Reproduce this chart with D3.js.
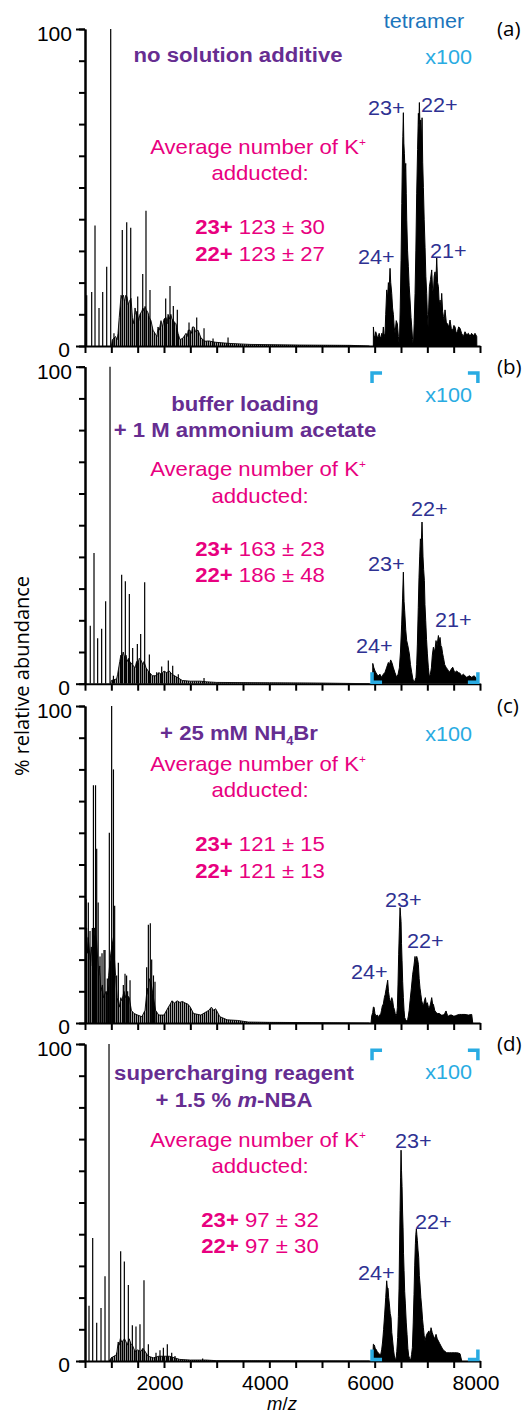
<!DOCTYPE html>
<html><head><meta charset="utf-8">
<script src="https://cdn.jsdelivr.net/npm/d3@7"></script>
<style>
body{margin:0;background:#fff}
text{font-family:"Liberation Sans",Arial,sans-serif}
.os{font-family:"Open Sans","Noto Sans",sans-serif}
</style>
</head><body>
<svg id="chart" width="523" height="1414"></svg>
<script>
// ---------------- DATA ----------------
const xTicks = d3.range(500, 8001, 500);
const xTickLabels = [2000, 4000, 6000, 8000];
const yMinorTicks = d3.range(0, 101, 10);
const yMajorTicks = [0, 100];
const panelLetters = ["(a)", "(b)", "(c)", "(d)"];

// stick peaks [m/z, % abundance]
const sticksA = [[532,16],[627,17],[690,38],[766,12],[836,17],[912,25],[988,100],[1050,4],[1208,36.6],[1292,39],[1368,37.3],[1501,15.6],[1596,22.7],[1658,42.7],[1734,17.7],[2032,15],[2114,18.9],[2177,12.6],[2253,11.4],[2475,7.4],[2621,9],[2760,5.6],[2931,2.4],[3216,2.7]];
const sticksB = [[600,18.3],[671,41.2],[740,14.3],[816,17.3],[892,26],[975,100],[1040,2.5],[1196,34.4],[1266,32.3],[1342,28.3],[1405,11.3],[1494,12.5],[1557,15.7],[1633,32],[1722,9.2],[1861,3.6],[1956,5.4],[2082,7.3],[2165,5.7],[2272,3],[2760,1.8]];
const sticksC = [[510,50],[520,39],[563,38],[595,29],[640,30],[660,75],[700,75],[722,55],[750,38],[785,21],[823,22],[861,23],[880,23],[924,14],[962,60],[1006,100],[1040,80],[1063,37],[1101,15],[1133,19],[1228,12],[1260,15.5],[1290,15],[1310,10],[1355,13.5],[1671,17.6],[1703,31],[1740,31.5],[1766,20],[1800,15],[1829,13]];
const sticksD = [[505,15.5],[576,17.4],[646,38.8],[722,12.1],[804,16.7],[880,26.7],[956,100],[1010,1.3],[1101,2.6],[1177,34.6],[1247,31.4],[1323,24],[1399,11.3],[1468,10.9],[1544,11.6],[1620,25.5],[1703,5.3],[1848,2.6],[1924,3.4],[1988,4.2],[2063,5.3],[2146,2.6],[2209,1.6],[2734,0.8]];

// dense low m/z envelopes [m/z, % abundance]
const envA = [[1000,0],[1020,2],[1080,3],[1110,2],[1127,4],[1150,9],[1165,12],[1185,16],[1203,15],[1230,16],[1250,14],[1275,16],[1298,15.5],[1320,13],[1340,14],[1374,15],[1400,9],[1430,7],[1450,12],[1470,10],[1488,11],[1520,8],[1544,10],[1580,11],[1600,12],[1620,11],[1640,12.5],[1660,11.5],[1696,10.5],[1720,9],[1753,8],[1791,5],[1829,4],[1867,3],[1886,6],[1910,5],[1943,8],[1970,6],[2000,8.5],[2040,9],[2060,7],[2076,10],[2110,8.5],[2130,10],[2152,8.5],[2200,7.5],[2228,7],[2266,4],[2304,2],[2361,2.5],[2418,4],[2440,3],[2460,5],[2494,5],[2520,4],[2540,6],[2570,6],[2600,4.5],[2646,5],[2680,3.5],[2703,2.5],[2779,1.5],[2850,1.6],[2969,1.2],[3100,1],[3254,0.8],[3633,0.5],[4583,0.3],[5532,0.2],[5900,0]];
const envB = [[985,0],[1000,1],[1100,1.5],[1120,3],[1160,7],[1180,9],[1200,8],[1225,10],[1250,8.5],[1280,9],[1300,7],[1330,8],[1350,7],[1400,6],[1450,5],[1480,7],[1500,6],[1530,8],[1560,7.5],[1600,6],[1620,7],[1660,5],[1700,4],[1780,2.5],[1850,2.5],[1900,3.5],[1950,3],[2000,4],[2050,3.5],[2100,4],[2150,3],[2250,2],[2350,1],[2500,0.8],[2700,0.8],[2800,0.6],[3000,0.4],[4000,0.3],[5000,0.2],[5900,0]];
const envC = [[500,12],[530,30],[545,22],[560,27],[600,20],[620,24],[640,18],[680,30],[720,26],[760,15],[780,18],[800,10],[830,12],[850,8],[900,10],[930,9],[950,15],[990,22],[1040,27],[1060,20],[1080,15],[1110,8],[1150,5],[1180,8],[1200,7],[1240,10],[1270,8],[1290,9],[1340,8],[1380,4],[1430,3],[1500,2.5],[1580,2],[1640,4],[1680,11],[1700,9],[1720,14],[1760,12],[1800,8],[1840,4],[1900,2.5],[2000,2.5],[2083,5],[2120,6],[2150,7],[2200,6.3],[2250,7],[2300,6.5],[2350,6.8],[2400,6.3],[2450,6],[2500,5],[2560,3],[2700,2.5],[2800,3.5],[2850,4],[2900,5],[2940,4],[2980,4.5],[3060,2],[3200,1],[3400,0.8],[3600,0.3],[4000,0.2],[5000,0.1],[5900,0]];
const envD = [[960,0],[1000,1],[1100,2],[1130,6],[1150,5],[1170,7],[1200,6],[1250,7],[1280,6],[1300,5],[1340,7],[1370,5.5],[1400,5],[1450,3],[1500,3.5],[1560,3],[1600,4],[1620,3.5],[1700,1.5],[1800,1],[1900,1.5],[2000,1.5],[2100,1.5],[2200,1],[2300,0.5],[2500,0.3],[2800,0.3],[3000,0.1],[5900,0]];

// tetramer region (x100) [m/z, % abundance]
const tetA = [[5975,0],[5976,6],[5990,3],[6007,3],[6020,4.5],[6039,3.5],[6055,2.5],[6070,3],[6085,4],[6102,3],[6120,2.5],[6135,4],[6150,3],[6165,6],[6180,3],[6197,4],[6210,10],[6229,17.7],[6245,15],[6260,20],[6275,18],[6292,24.5],[6305,20],[6324,16.6],[6340,12],[6355,10],[6370,6],[6387,4],[6410,8],[6431,7],[6450,3],[6469,0],[6485,12],[6501,27],[6515,45],[6526,58.7],[6535,66],[6545,73.6],[6554,64],[6564,60.8],[6577,55],[6590,57.6],[6600,48],[6609,39.7],[6625,30],[6640,25],[6655,19],[6672,14.5],[6690,9],[6704,6],[6720,2],[6735,0],[6750,7],[6767,16.6],[6782,30],[6798,48],[6815,62],[6830,73.4],[6840,70],[6849,76.8],[6862,68],[6874,71.3],[6888,64],[6900,72],[6912,58],[6925,50],[6940,40],[6957,31],[6972,22],[6988,16.6],[7000,10],[7014,6],[7026,12],[7039,18.7],[7060,21],[7083,24],[7100,18],[7115,16.6],[7130,22],[7147,23.4],[7162,20],[7178,28],[7195,20],[7210,18.7],[7226,13],[7242,14.5],[7258,12],[7273,16.6],[7290,11],[7305,9.3],[7320,8],[7336,11.4],[7360,7.5],[7381,7],[7405,6],[7431,8.2],[7455,5.5],[7482,5],[7505,6.5],[7526,6],[7550,4],[7571,4.5],[7595,6],[7621,5.6],[7650,4],[7685,3],[7715,4.5],[7748,3.5],[7780,4],[7811,3],[7840,4],[7874,3.2],[7905,4],[7938,3],[7940,0]];
const tetB = [[5963,0],[5964,6.4],[5985,5],[6007,4],[6040,3],[6070,2.5],[6100,3],[6133,2],[6165,3],[6197,3.6],[6225,5],[6260,6.7],[6280,6],[6304,7.5],[6330,6.5],[6355,5],[6385,3.5],[6418,2],[6445,3],[6469,5],[6490,10],[6513,18.8],[6530,27],[6545,35.2],[6558,26],[6570,23],[6590,17],[6608,13.6],[6630,12],[6659,9.4],[6680,6],[6703,3.6],[6725,1.5],[6747,0.4],[6765,1],[6785,2],[6798,6],[6811,12.5],[6828,24],[6842,33.6],[6855,40],[6868,45.7],[6885,44],[6899,51],[6908,46],[6918,40],[6930,36],[6944,32.5],[6955,25],[6969,20],[6985,14],[7001,9.4],[7020,5],[7039,2],[7058,3],[7077,5],[7095,9],[7115,11.5],[7140,10],[7165,13.6],[7185,12],[7210,15.2],[7225,13],[7241,14.6],[7258,12],[7273,11.5],[7290,9.5],[7305,8.3],[7330,6],[7355,5.2],[7385,4.5],[7418,3.6],[7450,4.5],[7482,5.2],[7520,3.5],[7558,4],[7590,3.5],[7621,3.3],[7650,2.5],[7684,3],[7715,2.5],[7748,2],[7800,2.5],[7843,2],[7890,2.5],[7938,1.5],[7969,0]];
const tetC = [[5931,0],[5944,2.2],[5963,3.3],[5975,5],[5988,5],[6005,3],[6026,2.2],[6050,2.5],[6070,1.7],[6090,2.5],[6114,2.7],[6130,4],[6146,5.4],[6165,6],[6184,8],[6200,9],[6216,10.6],[6232,12],[6247,13.5],[6262,10],[6279,8],[6295,7],[6311,6.4],[6325,8],[6342,7],[6358,5],[6374,4.3],[6390,3],[6406,2.2],[6420,3],[6431,4.8],[6443,12],[6456,21.7],[6470,30],[6482,36.4],[6492,34],[6501,32],[6510,25],[6520,19.6],[6532,13],[6545,8],[6558,4],[6570,1.7],[6590,1],[6608,0.6],[6625,1],[6640,2.2],[6655,4],[6672,7],[6697,11],[6722,15.4],[6745,18],[6766,21],[6782,19],[6798,21],[6815,20],[6830,18.5],[6845,14],[6861,11],[6877,9],[6893,7],[6910,6],[6925,5.4],[6945,7],[6963,8],[6980,6],[7001,6.4],[7020,5],[7039,4.8],[7060,6],[7083,8],[7100,6],[7115,5.9],[7140,4],[7165,3.3],[7195,3],[7229,3],[7265,2.5],[7305,2.5],[7330,3],[7355,3.8],[7380,2.5],[7400,2.2],[7430,2.5],[7463,2.5],[7495,2.2],[7526,2.2],[7565,2.5],[7608,2.7],[7653,2.7],[7716,2.7],[7779,2.5],[7843,2.7],[7862,0]];
const tetD = [[5963,0],[5975,5.3],[5995,5],[6010,4],[6026,3.7],[6048,3],[6070,2.5],[6090,2.2],[6114,2],[6133,3.5],[6152,6.3],[6170,10],[6190,14.8],[6210,20],[6228,25.3],[6240,23],[6254,23],[6266,20],[6279,18],[6295,15],[6311,13.7],[6325,9],[6342,6.3],[6358,3.5],[6374,1.6],[6390,0.8],[6406,0.5],[6420,3],[6437,7.4],[6450,14],[6463,23],[6472,35],[6482,47.5],[6492,58],[6501,66.5],[6510,60],[6520,55],[6530,47],[6539,42],[6548,34],[6558,28.5],[6570,22],[6583,18],[6600,12],[6615,8.4],[6630,4],[6646,1.6],[6665,0.8],[6684,0.2],[6700,2],[6716,4.2],[6732,12],[6747,21],[6760,30],[6773,37],[6782,40],[6792,41.7],[6800,40],[6811,38],[6823,35],[6836,32.7],[6848,27],[6861,24.3],[6877,20],[6893,17],[6910,13],[6925,10.5],[6940,8],[6956,6.3],[6972,7.5],[6988,8.4],[7010,9],[7032,9.5],[7050,8],[7070,10.5],[7092,9],[7115,7.9],[7140,7],[7165,8.4],[7188,7],[7210,6.3],[7235,5.5],[7260,4.7],[7290,3.8],[7317,3.2],[7340,3],[7368,2.6],[7415,2.6],[7463,2.6],[7510,2.6],[7558,2.6],[7590,2.5],[7621,2.3],[7653,0]];

// texts
const titlesA = ["no solution additive"];
const titlesB = ["buffer loading", "+ 1 M ammonium acetate"];
const titlesC = ["+ 25 mM NH4Br"];
const titlesD = ["supercharging reagent", "+ 1.5 % m-NBA"];
const adductCharges = ["23+", "22+"];
const adductA = ["123 ± 30", "123 ± 27"];
const adductB = ["163 ± 23", "186 ± 48"];
const adductC = ["121 ± 15", "121 ± 13"];
const adductD = ["97 ± 32", "97 ± 30"];
const chargesA = ["23+", "22+", "24+", "21+"];
const chargesB = ["22+", "23+", "21+", "24+"];
const chargesC = ["23+", "22+", "24+"];
const chargesD = ["23+", "22+", "24+"];
const bracketRange = [5950, 7960];
const bracketTop = 98;

// ---------------- LAYOUT ----------------
const C = {purple:"#662D91", pink:"#E8007F", navy:"#2E3192", tet:"#1C75BC", light:"#29ABE2"};
const SX = 1.08;
const svg = d3.select("#chart");
const defs = svg.append("defs");
const pat = defs.append("pattern").attr("id", "dense").attr("patternUnits", "userSpaceOnUse")
  .attr("width", 2).attr("height", 4);
pat.append("rect").attr("width", 1.4).attr("height", 4).attr("fill", "#000");

const x = d3.scaleLinear().domain([500, 8000]).range([85, 480]);
const tops = [29, 366.7, 706, 1044];
const H = 317;

const panels = [
  {sticks:sticksA, env:envA, tet:tetA, titles:titlesA, titleX:238, titleY:[33], avgY:[125,151], valY:[205,232], vals:adductA,
   charges:chargesA, chargePos:[[368,86],[421,83],[358,235],[430,229]], brackets:false},
  {sticks:sticksB, env:envB, tet:tetB, titles:titlesB, titleX:245, titleY:[44,70], avgY:[109,136], valY:[189,215], vals:adductB,
   charges:chargesB, chargePos:[[411,149],[368,204],[435,260],[356,286]], brackets:true},
  {sticks:sticksC, env:envC, tet:tetC, titles:titlesC, titleX:239, titleY:[34], avgY:[65,91], valY:[145,172], vals:adductC,
   charges:chargesC, chargePos:[[385,201],[407,242],[351,273]], brackets:false},
  {sticks:sticksD, env:envD, tet:tetD, titles:titlesD, titleX:234, titleY:[36,63], avgY:[103,129], valY:[183,209], vals:adductD,
   charges:chargesD, chargePos:[[395,104],[415,185],[358,236]], brackets:true}
];

function T(g, x0, y0, anchor, size, fill, weight) {
  return g.append("text")
    .attr("transform", `translate(${x0},${y0}) scale(${SX},1)`)
    .attr("text-anchor", anchor || "start")
    .attr("font-size", size || 20)
    .attr("fill", fill || "#000")
    .attr("font-weight", weight || "normal");
}

panels.forEach((p, i) => {
  const top = tops[i], bot = top + H;
  const y = d3.scaleLinear().domain([0, 100]).range([bot, top]);
  const g = svg.append("g");
  const clipId = "clip" + i;
  defs.append("clipPath").attr("id", clipId).append("rect")
    .attr("x", 85).attr("y", top - 2).attr("width", 396).attr("height", H + 2);
  const sg = g.append("g").attr("clip-path", `url(#${clipId})`);

  const area = d3.area().x(d => x(d[0])).y0(y(0)).y1(d => y(d[1]));
  const line = d3.line().x(d => x(d[0])).y(d => y(d[1]));
  // low m/z dense region (many unresolved sticks)
  sg.append("path").attr("d", area(p.env)).attr("fill", "url(#dense)");
  sg.append("path").attr("d", line(p.env)).attr("fill", "none").attr("stroke", "#000").attr("stroke-width", 0.9);
  // tetramer region
  sg.append("path").attr("d", area(p.tet)).attr("fill", "#000");
  sg.append("path").attr("d", line(p.tet)).attr("fill", "none").attr("stroke", "#000").attr("stroke-width", 1);
  sg.selectAll("line.stick").data(p.sticks).join("line").attr("class", "stick")
    .attr("x1", d => x(d[0])).attr("x2", d => x(d[0]))
    .attr("y1", y(0)).attr("y2", d => y(d[1]))
    .attr("stroke", "#000").attr("stroke-width", 1.2);

  // axes
  const ya = g.append("g").attr("transform", "translate(85,0)")
    .call(d3.axisLeft(y).tickValues(yMinorTicks).tickSize(6).tickSizeOuter(0).tickFormat(""));
  const yb = g.append("g").attr("transform", "translate(85,0)")
    .call(d3.axisLeft(y).tickValues(yMajorTicks).tickSize(9).tickSizeOuter(0).tickFormat(""));
  const xa = g.append("g").attr("transform", `translate(0,${bot})`)
    .call(d3.axisBottom(x).tickValues(xTicks).tickSize(7).tickSizeOuter(0).tickFormat(""));
  [ya, yb, xa].forEach(a => {
    a.selectAll("path.domain").attr("stroke", "#000").attr("stroke-width", 2);
    a.selectAll(".tick line").attr("stroke", "#000").attr("stroke-width", 2);
  });

  // y tick labels
  T(g, 72, top + 12, "end", 19.5).text("100");
  T(g, 70, bot + 11, "end", 19.5).text("0");

  if (i === 3) {
    xTickLabels.forEach(v => T(g, x(v) - 4, bot + 28.5, "middle", 19.5).text(v));
  }

  // panel letter
  g.append("text").attr("class", "os").attr("x", 497).attr("y", top + 7)
    .attr("font-size", 20.5).text(panelLetters[i]);

  // x100
  T(g, 472, top + 35, "end", 20, C.light).text("x100");

  // brackets
  if (p.brackets) {
    const x0 = x(bracketRange[0]), x1 = x(bracketRange[1]);
    const yt = y(bracketTop), ybm = y(0) - 1.5, a = 10;
    const corners = [
      `M${x0},${yt + a}V${yt}H${x0 + a}`,
      `M${x1 - a},${yt}H${x1}V${yt + a}`,
      `M${x0},${ybm - a}V${ybm}H${x0 + a}`,
      `M${x1 - a},${ybm}H${x1}V${ybm - a}`
    ];
    corners.forEach(d => g.append("path").attr("d", d).attr("fill", "none")
      .attr("stroke", C.light).attr("stroke-width", 3.5));
  }

  // titles
  p.titles.forEach((t, k) => {
    const tx = T(g, p.titleX, top + p.titleY[k], "middle", 20.5, C.purple, "bold");
    if (t.includes("NH4Br")) {
      tx.append("tspan").text("+ 25 mM NH");
      tx.append("tspan").attr("font-size", 12).attr("dy", 5).text("4");
      tx.append("tspan").attr("dy", -5).text("Br");
    } else if (t.includes("m-NBA")) {
      tx.append("tspan").text("+ 1.5 % ");
      tx.append("tspan").attr("font-style", "italic").text("m");
      tx.append("tspan").text("-NBA");
    } else tx.text(t);
  });

  // average number
  const av = T(g, 258, top + p.avgY[0], "middle", 20.5, C.pink);
  av.append("tspan").text("Average number of K");
  av.append("tspan").attr("font-size", 11).attr("dy", -8).text("+");
  T(g, 260, top + p.avgY[1], "middle", 20.5, C.pink).text("adducted:");
  p.vals.forEach((v, k) => {
    const tv = T(g, 260, top + p.valY[k], "middle", 20.5, C.pink);
    tv.append("tspan").attr("font-weight", "bold").text(adductCharges[k]);
    tv.append("tspan").text(" " + v);
  });

  // charge state labels
  p.charges.forEach((c, k) => {
    T(g, p.chargePos[k][0], top + p.chargePos[k][1], "start", 20, C.navy).text(c);
  });

  if (i === 0) T(g, 424, 28, "middle", 20, C.tet).text("tetramer");
});

// axis titles
svg.append("text").attr("class", "os")
  .attr("transform", "translate(29,676) rotate(-90)")
  .attr("text-anchor", "middle").attr("font-size", 20).text("% relative abundance");
const mz = svg.append("text").attr("x", 282).attr("y", 1410)
  .attr("text-anchor", "middle").attr("font-size", 18.5).attr("font-style", "italic");
mz.append("tspan").text("m");
mz.append("tspan").attr("font-style", "normal").text("/");
mz.append("tspan").text("z");
</script>
</body></html>
